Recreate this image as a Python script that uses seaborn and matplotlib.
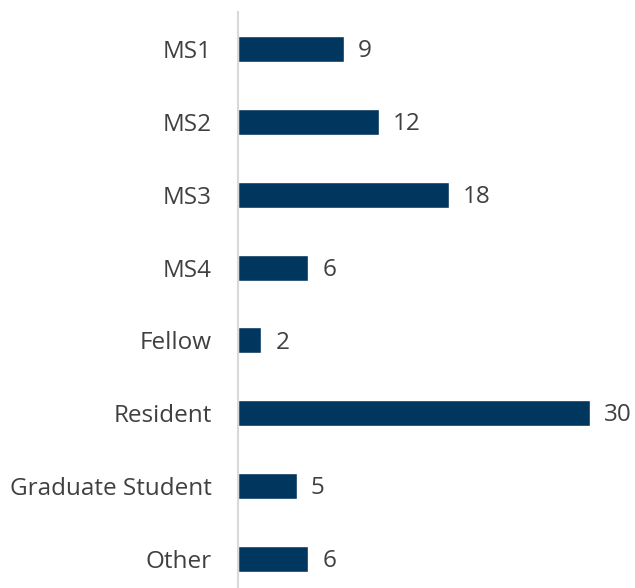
import matplotlib
matplotlib.use('Agg')
import matplotlib.pyplot as plt
import seaborn as sns
import pandas as pd

# chart data
categories = ['MS1', 'MS2', 'MS3', 'MS4', 'Fellow', 'Resident', 'Graduate Student', 'Other']
counts = [9, 12, 18, 6, 2, 30, 5, 6]

df = pd.DataFrame({'category': categories, 'count': counts})

sns.set_style('white')
plt.rcParams['font.family'] = ['Open Sans', 'DejaVu Sans']

fig = plt.figure(figsize=(6.35, 5.88), dpi=100)
ax = fig.add_axes([238 / 635, 0, 362 / 635, 576 / 588])

sns.barplot(data=df, x='count', y='category', orient='h', color='#01365F',
            width=0.357, saturation=1, ax=ax)

ax.set_xlim(0, 30.85)
ax.set_ylim(7.398, -0.508)

for i, v in enumerate(counts):
    ax.text(v + 1.2, i + 0.03, str(v), va='center', ha='left', fontsize=17.5,
            color='#404040', clip_on=False)

ax.set_xlabel('')
ax.set_ylabel('')
ax.set_xticks([])
ax.tick_params(axis='y', length=0, pad=19, labelsize=17.5, labelcolor='#404040')
for side in ['top', 'right', 'bottom']:
    ax.spines[side].set_visible(False)
ax.spines['left'].set_color('#D9D9D9')
ax.spines['left'].set_linewidth(1.5)

fig.savefig('out.png', dpi=100)
